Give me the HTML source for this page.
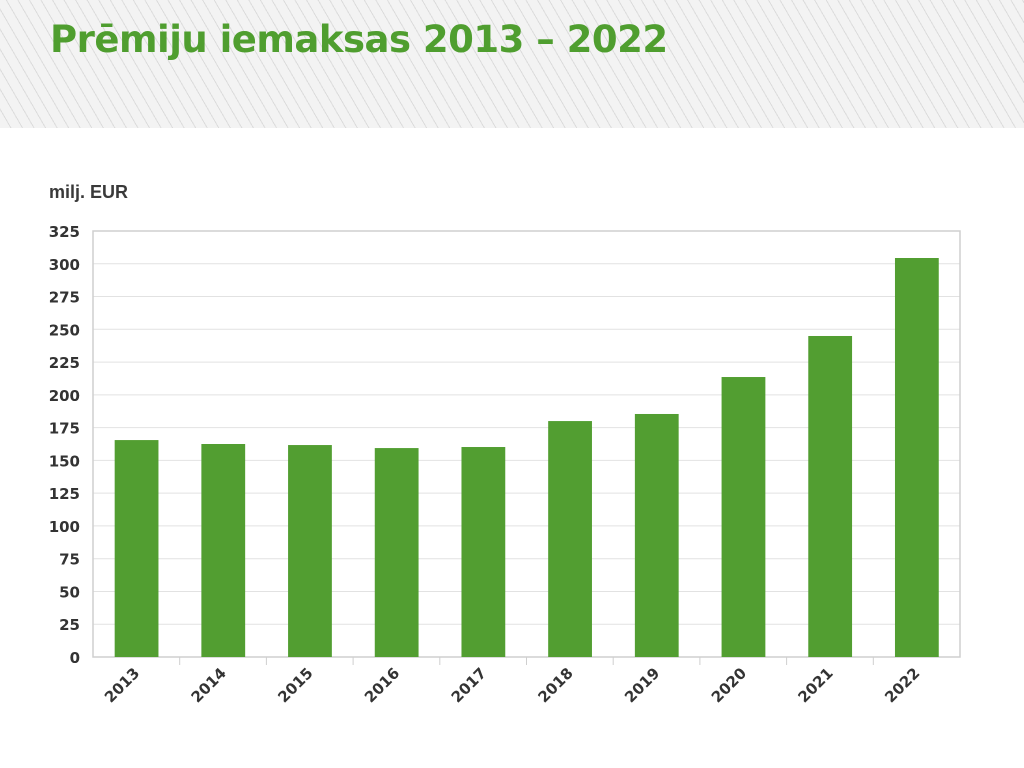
<!DOCTYPE html>
<html><head><meta charset="utf-8"><style>
body{margin:0;width:1024px;height:768px;background:#fff;overflow:hidden;font-family:"Liberation Sans",sans-serif}
#hdr{position:absolute;left:0;top:0;width:1024px;height:128px;background:#f3f3f3;background-image:repeating-linear-gradient(60deg,transparent 0 9px,#dcdcdc 9px 10px)}
#title{position:absolute;left:50px;top:18px;font-size:37px;font-weight:bold;color:#4f9e2f;font-family:"DejaVu Sans","Liberation Sans",sans-serif;letter-spacing:-0.5px}
</style></head><body>
<div id="hdr"></div>
<div id="title">Prēmiju iemaksas 2013 – 2022</div>
<svg id="chart" width="1024" height="768" style="position:absolute;left:0;top:0">
<text x="49" y="198" font-size="18" font-weight="bold" fill="#3a3a3a">milj. EUR</text>
<g id="grid"></g><g id="bars"></g><g id="labels"></g>
</svg>
<script>
const categories=["2013","2014","2015","2016","2017","2018","2019","2020","2021","2022"];
const values=[165.5,162.5,161.7,159.4,160.2,180,185.4,213.6,244.9,304.4];
const yTicks=[0,25,50,75,100,125,150,175,200,225,250,275,300,325];
const L=93,R=960,T=231,B=657,yMax=325;
const y=v=>B-(v/yMax)*(B-T);
const bw=(R-L)/categories.length;
const x=i=>L+bw*i;
const NS="http://www.w3.org/2000/svg";
function mk(t,a,p){const e=document.createElementNS(NS,t);for(const k in a)e.setAttribute(k,a[k]);p.appendChild(e);return e;}
const g=document.getElementById('grid'),bg=document.getElementById('bars'),lg=document.getElementById('labels');
yTicks.forEach(t=>{
 if(t>0&&t<yMax){const l=mk('line',{x1:L,x2:R,y1:y(t),y2:y(t),stroke:'#e2e2e2','stroke-width':1},g);
 
 }
 const tx=mk('text',{x:80,y:y(t)+6,'text-anchor':'end','font-size':15,'font-weight':'bold',fill:'#333','font-family':'DejaVu Sans,Liberation Sans,sans-serif'},lg);
 tx.textContent=t;
 
 
});
const fr=mk('rect',{x:L,y:T,width:R-L,height:B-T,fill:'none',stroke:'#cfcfcf','stroke-width':1.5},g);


categories.forEach((c,i)=>{
 if(i>0){const tk=mk('line',{x1:x(i),x2:x(i),y1:B,y2:B+8,stroke:'#cfcfcf'},g);
 
 }
 const r=mk('rect',{x:x(i)+bw*0.25,y:y(values[i]),width:bw*0.505,height:B-y(values[i]),fill:'#529e31'},bg);
 
 
 const cx=x(i)+bw/2+4,cy=B+17;
 const tx=mk('text',{x:cx,y:cy,'text-anchor':'end','font-size':15,'font-weight':'bold',fill:'#333','font-family':'DejaVu Sans,Liberation Sans,sans-serif',transform:`rotate(-45 ${cx} ${cy})`},lg);
 tx.textContent=c;
 
 
});
</script>
</body></html>
